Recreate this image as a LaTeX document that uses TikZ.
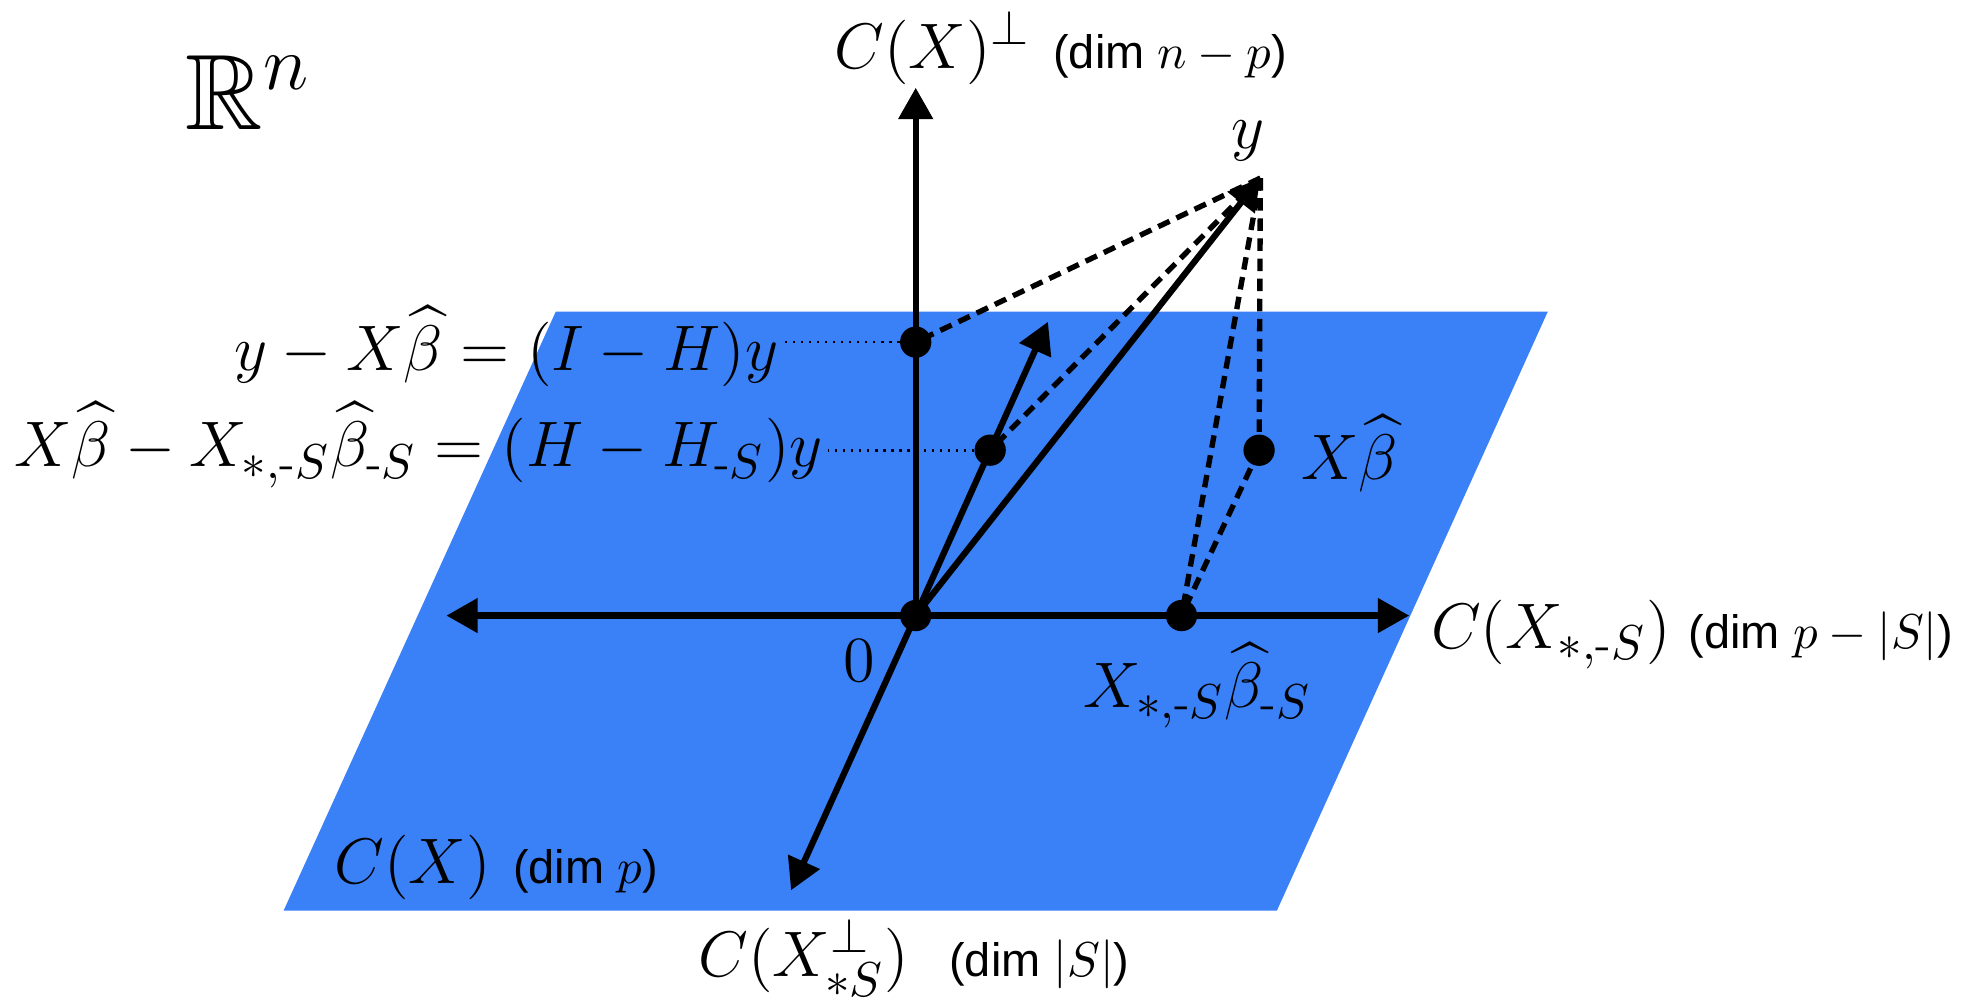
\documentclass[tikz,border=0pt]{standalone}
\usepackage{amsmath}
\usepackage{amssymb}
\usepackage{fontspec}
\newfontfamily\dimfont{Liberation Sans}
\usetikzlibrary{arrows.meta}
\usetikzlibrary{calc}
\definecolor{planeblue}{RGB}{58,128,246}
\newcommand{\dimtxt}[1]{{\dimfont\fontsize{10.5}{12}\selectfont (dim #1)}}

\begin{document}
\begin{tikzpicture}[
  axis/.style={black, line width=1.4pt, -{Triangle[length=7pt,width=7.5pt]}},
  proj/.style={black, line width=1.2pt, dash pattern=on 2.8pt off 1.7pt},
  guide/.style={black, line width=0.6pt, dash pattern=on 0.5pt off 1.3pt},
  pt/.style={circle, fill=black, inner sep=0pt, minimum size=7pt},
  lab/.style={font=\fontsize{15}{18}\selectfont, inner sep=1pt}
]
\useasboundingbox (0,0) rectangle (15.6,7.925);
% the plane C(X)
\fill[planeblue] (4.37,5.475) -- (12.17,5.475) -- (10.04,0.765) -- (2.23,0.765) -- cycle;
\coordinate (O) at (7.20,3.085);
\coordinate (up) at (7.20,7.235);
\coordinate (left) at (3.51,3.085);
\coordinate (right) at (11.08,3.085);
\coordinate (down) at (6.22,0.925);
\coordinate (ytip) at (9.91,6.525);
\coordinate (ra) at (7.20,5.235);
\coordinate (hb) at (8.24,5.395);
\coordinate (rb) at ($(O)!0.563!(hb)$);
\coordinate (xb) at (9.90,4.385);
\coordinate (xs) at (9.29,3.085);
% axes and vectors
\draw[axis] (O) -- (up);
\draw[axis] (O) -- (left);
\draw[axis] (O) -- (right);
\draw[axis] (O) -- (down);
\draw[axis] (O) -- (ytip);
\draw[axis] (O) -- (hb);
% projections
\foreach \p in {ra, rb, xb, xs}
  \draw[proj] (ytip) -- (\p);
\draw[proj] (xb) -- (xs);
\foreach \p in {O, ra, rb, xb, xs}
  \node[pt] at (\p) {};
% labels
\node[lab, anchor=base west, font=\fontsize{24}{28}\selectfont] (rn) at (1.42,6.905) {$\mathbb{R}^n$};
\node[lab, anchor=base west] (perp) at (6.52,7.39) {$C(X)^{\perp}$\hspace{5pt}\dimtxt{$n-p$}};
\node[lab, anchor=base] (ylab) at (9.81,6.755) {$y$};
\node[lab, anchor=base east] (resid) at (6.16,5.01) {$y - X\widehat{\beta} = (I - H)y$};
\node[lab, anchor=base east] (diff) at (6.51,4.255) {$X\widehat{\beta} - X_{*,\text{-}S}\widehat{\beta}_{\text{-}S} = (H - H_{\text{-}S})y$};
\draw[guide] (ra) -- (ra -| resid.east);
\draw[guide] (rb) -- (rb -| diff.east);
\node[lab, anchor=base west] (xblab) at (10.19,4.155) {$X\widehat{\beta}$};
\node[lab, anchor=base] (zero) at (6.755,2.565) {$0$};
\node[lab, anchor=base] (xslab) at (9.415,2.365) {$X_{*,\text{-}S}\widehat{\beta}_{\text{-}S}$};
\node[lab, anchor=base west] (colS) at (11.21,2.825) {$C(X_{*,\text{-}S})$\hspace{4pt}\dimtxt{$p-|S|$}};
\node[lab, anchor=base west] (colX) at (2.59,0.975) {$C(X)$\hspace{5pt}\dimtxt{$p$}};
\node[lab, anchor=base west] (colperp) at (5.45,0.25) {$C(X^{\perp}_{*S})$\hspace{9pt}\dimtxt{$|S|$}};
\end{tikzpicture}
\end{document}
